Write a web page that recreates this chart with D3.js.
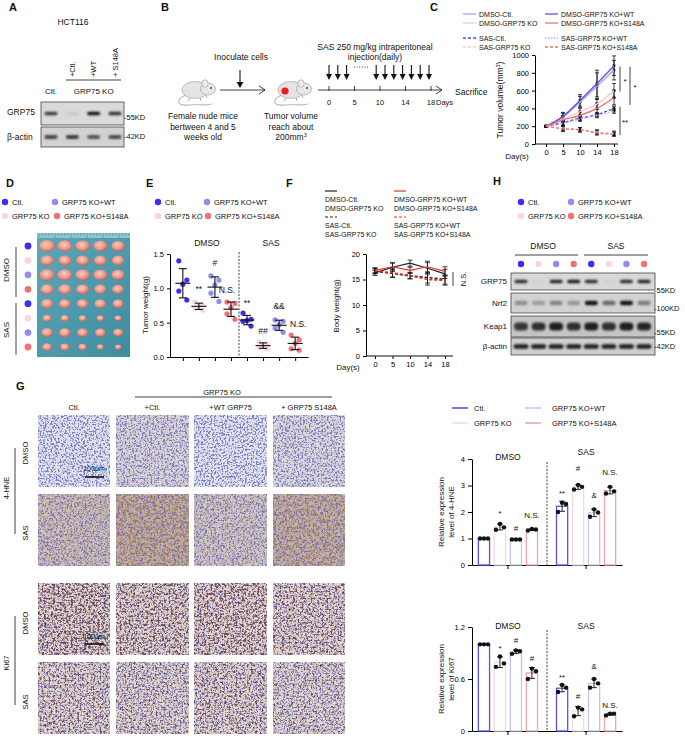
<!DOCTYPE html>
<html>
<head>
<meta charset="utf-8">
<script src="https://cdn.jsdelivr.net/npm/d3@7"></script>
<style>
body { margin: 0; background: #fff; }
svg { display: block; }
</style>
</head>
<body>
<svg id="fig" width="685" height="738"></svg>
<script>
const FONT = '"Liberation Sans", Arial, sans-serif';

// ---- A: HCT116 blot (relative band intensity per lane)
const aLanes = ['Ctl.', '+Ctl.', '+WT', '+ S148A'];
const aGrp75 = [0.8, 0.08, 1.0, 0.85];
const aActin = [0.75, 0.8, 0.65, 0.7];

// ---- B: schedule
const bDays = [0, 5, 10, 14, 18];

// ---- C: tumour volume (mm3)
const cDays = [0, 5, 10, 14, 18];
const cDmsoCtl = [200, 300, 470, 650, 830];
const cDmsoKO = [200, 280, 365, 450, 600];
const cDmsoWT = [200, 310, 490, 680, 880];
const cDmsoS148A = [200, 270, 320, 400, 520];
const cSasCtl = [200, 240, 290, 330, 400];
const cSasKO = [200, 180, 160, 135, 120];
const cSasWT = [200, 230, 280, 320, 370];
const cSasS148A = [200, 170, 160, 125, 110];
const cErrBig = [8, 45, 65, 150, 110];
const cErrMid = [8, 40, 40, 60, 80];
const cErrSmall = [8, 30, 25, 25, 25];

// ---- E: tumour weight (g), 5 mice per group
const eGroups = ['Ctl.', 'GRP75 KO', 'GRP75 KO+WT', 'GRP75 KO+S148A'];
const eDmsoCtl = [1.40, 1.12, 1.06, 0.96, 0.83];
const eDmsoKO = [0.80, 0.76, 0.74, 0.71, 0.68];
const eDmsoWT = [1.18, 1.12, 1.05, 0.93, 0.81];
const eDmsoS148A = [0.80, 0.78, 0.72, 0.63, 0.55];
const eSasCtl = [0.64, 0.55, 0.53, 0.52, 0.45];
const eSasKO = [0.22, 0.19, 0.16, 0.14, 0.12];
const eSasWT = [0.54, 0.52, 0.47, 0.42, 0.36];
const eSasS148A = [0.32, 0.25, 0.20, 0.12, 0.10];
const eSig = ['', '**', '#', 'N.S.', '**', '##', '&&', 'N.S.'];
const eSigAt = [0, 1.02, 1.37, 0.98, 0.83, 0.38, 0.74, 0.48];

// ---- F: body weight (g)
const fDays = [0, 5, 10, 14, 18];
const fDmsoBlack = [16.3, 17.4, 18.2, 17.2, 16.1];
const fDmsoRed = [16.8, 17.5, 16.8, 17.5, 16.6];
const fSasBlack = [16.6, 16.2, 15.7, 15.4, 15.0];
const fSasRed = [16.7, 16.3, 15.8, 15.0, 14.8];
const fErr = [0.5, 0.8, 0.6, 1.1, 0.9];

// ---- H: blot (relative band intensity per lane)
const hGrp75 = [0.85, 0.03, 0.9, 0.95, 0.85, 0.03, 0.85, 0.9];
const hNrf2 = [0.35, 0.28, 0.4, 0.3, 1.0, 0.55, 1.0, 0.45];
const hKeap1 = [0.8, 0.85, 0.95, 0.85, 0.95, 0.85, 0.95, 0.9];
const hActin = [0.95, 0.95, 0.95, 0.95, 0.95, 0.95, 0.95, 0.95];

// ---- G: relative expression, 3 fields per group
const gCols = ['Ctl.', '+Ctl.', '+WT GRP75', '+ GRP75 S148A'];
const gHneDmso = [[1, 1, 1], [1.33, 1.55, 1.42], [0.96, 0.96, 0.96], [1.30, 1.36, 1.34]];
const gHneSas = [[2.0, 2.35, 2.3], [2.85, 3.02, 2.95], [1.82, 2.1, 1.98], [2.7, 2.95, 2.78]];
const gKiDmso = [[1, 1, 1], [0.74, 0.86, 0.78], [0.89, 0.93, 0.92], [0.6, 0.72, 0.69]];
const gKiSas = [[0.45, 0.53, 0.5], [0.17, 0.27, 0.25], [0.5, 0.6, 0.55], [0.18, 0.2, 0.2]];
const gHneSig = ['', '*', '#', 'N.S.', '**', '#', '&', 'N.S.'];
const gHneSigAt = [0, 2.05, 1.36, 1.85, 2.8, 3.66, 2.64, 3.5];
const gKiSig = ['', '*', '#', '#', '**', '#', '&', 'N.S.'];
const gKiSigAt = [0, 0.98, 1.04, 0.84, 0.65, 0.4, 0.74, 0.3];

const colCtl = '#3b2ef2', colKO = '#f5d8db', colWT = '#8e8ef6', colS148A = '#f07276';
const groupCols = [colCtl, colKO, colWT, colS148A];

const svg = d3.select('#fig').attr('font-family', FONT);
svg.append('rect').attr('width', 685).attr('height', 738).attr('fill', '#fff');
const defs = svg.append('defs');
defs.append('filter').attr('id', 'blur').attr('x', '-50%').attr('y', '-100%').attr('width', '200%').attr('height', '300%')
  .append('feGaussianBlur').attr('stdDeviation', 0.9);

function txt(g, x, y, s, size, o = {}) {
  const t = g.append('text').attr('x', x).attr('y', y).attr('font-size', size)
    .attr('dominant-baseline', o.base || 'central').attr('fill', o.fill || '#111').text(s);
  if (o.anchor) t.attr('text-anchor', o.anchor);
  if (o.weight) t.attr('font-weight', o.weight);
  if (o.rotate) t.attr('transform', `rotate(${o.rotate},${x},${y})`);
  return t;
}
function line(g, x1, y1, x2, y2, o = {}) {
  const l = g.append('line').attr('x1', x1).attr('y1', y1).attr('x2', x2).attr('y2', y2)
    .attr('stroke', o.stroke || '#111').attr('stroke-width', o.w || 1);
  if (o.dash) l.attr('stroke-dasharray', o.dash);
  return l;
}
function axisStyle(sel, fs) {
  sel.attr('font-family', FONT).attr('font-size', fs);
  sel.selectAll('path.domain').attr('stroke', '#000');
  sel.selectAll('.tick line').attr('stroke', '#000');
  sel.selectAll('.tick text').attr('fill', '#000');
}
function letter(s, x, y) { txt(svg, x, y, s, 11, { weight: 'bold' }); }

// blot strip: box and blurred bands
function blot(g, x0, x1, y0, y1, laneX, vals, o) {
  g.append('rect').attr('x', x0).attr('y', y0).attr('width', x1 - x0).attr('height', y1 - y0)
    .attr('fill', o.bg).attr('stroke', '#444').attr('stroke-width', 0.8);
  vals.forEach((v, i) => {
    g.append('rect').attr('x', laneX(i) - o.w / 2).attr('y', (y0 + y1) / 2 - o.h / 2)
      .attr('width', o.w).attr('height', o.h).attr('rx', o.h / 2)
      .attr('fill', '#151515').attr('opacity', v).attr('filter', 'url(#blur)');
  });
}
// pts in group order: Ctl., GRP75 KO, GRP75 KO+WT, GRP75 KO+S148A
function dotLegend(g, pts) {
  pts.forEach((p, i) => {
    g.append('circle').attr('cx', p[0]).attr('cy', p[1]).attr('r', 3.2).attr('fill', groupCols[i]);
    txt(g, p[0] + 7, p[1], eGroups[i], 7.5);
  });
}

// ================= A =================
const gA = svg.append('g');
letter('A', 9, 7);
txt(gA, 73, 22, 'HCT116', 8.5, { anchor: 'middle' });
const aX = d3.scalePoint().domain(d3.range(aLanes.length)).range([51, 115]);
aLanes.slice(1).forEach((s, i) => txt(gA, aX(i + 1), 77, s, 7.5, { rotate: -90 }));
line(gA, 66, 80, 121, 80, { w: 0.8 });
txt(gA, aX(0), 91, aLanes[0], 8, { anchor: 'middle' });
txt(gA, aX(2), 91, 'GRP75 KO', 8, { anchor: 'middle' });
blot(gA, 41, 124, 102, 125, aX, aGrp75, { bg: '#dadada', w: 13, h: 3.5 });
blot(gA, 41, 124, 127, 147, aX, aActin, { bg: '#d2d2d2', w: 13, h: 4 });
txt(gA, 7, 112, 'GRP75', 8.5);
txt(gA, 7, 137, 'β-actin', 8.5);
txt(gA, 124, 117, '-55KD', 7.5);
txt(gA, 124, 136, '-42KD', 7.5);

// ================= B =================
const gB = svg.append('g');
letter('B', 161, 7);
function mouse(cx, cy, tumour) {
  const m = gB.append('g').attr('transform', `translate(${cx},${cy})`);
  m.append('path').attr('d', 'M-12,5 C-22,9 -22,16 -10,15 C-2,14 6,16 14,14')
    .attr('fill', 'none').attr('stroke', '#b8b8b8').attr('stroke-width', 1.1);
  m.append('ellipse').attr('cx', -3).attr('cy', 0).attr('rx', 13).attr('ry', 8.5)
    .attr('fill', '#e4e4e4').attr('stroke', '#9a9a9a').attr('stroke-width', 0.6);
  m.append('ellipse').attr('cx', 10).attr('cy', -1).attr('rx', 7.5).attr('ry', 6)
    .attr('fill', '#e8e8e8').attr('stroke', '#9a9a9a').attr('stroke-width', 0.6);
  m.append('ellipse').attr('cx', 7).attr('cy', -6.5).attr('rx', 3.2).attr('ry', 3.8)
    .attr('fill', '#ededed').attr('stroke', '#9a9a9a').attr('stroke-width', 0.6);
  m.append('circle').attr('cx', 13).attr('cy', -2).attr('r', 1).attr('fill', '#444');
  m.append('path').attr('d', 'M-8,8 l-2,3 M2,8 l1,3 M8,5 l1,3').attr('stroke', '#9a9a9a').attr('stroke-width', 0.8);
  if (tumour) m.append('circle').attr('cx', -9).attr('cy', 1).attr('r', 3.6).attr('fill', '#f01818');
}
mouse(198, 90, false);
mouse(294, 90, true);
txt(gB, 241, 57, 'Inoculate cells', 8.5, { anchor: 'middle' });
line(gB, 240, 70, 240, 83, { w: 1.1 });
gB.append('path').attr('d', 'M236.5,82 L243.5,82 L240,88 Z').attr('fill', '#111');
line(gB, 220, 90, 265, 90, { w: 0.8 });
gB.append('path').attr('d', 'M259,86 L265,90 L259,94').attr('fill', 'none').attr('stroke', '#111').attr('stroke-width', 0.8);
['Female nude mice', 'bertween 4 and 5', 'weeks old'].forEach((s, i) => txt(gB, 203, 116 + i * 10.5, s, 8.5, { anchor: 'middle' }));
const tv = gB.append('g');
txt(tv, 291, 116, 'Tumor volume', 8.5, { anchor: 'middle' });
txt(tv, 291, 126.5, 'reach about', 8.5, { anchor: 'middle' });
const t200 = txt(tv, 291, 137, '200mm', 8.5, { anchor: 'middle' });
t200.append('tspan').attr('font-size', 5.5).attr('dy', -2.5).text('3');

const bX = d3.scalePoint().domain(bDays).range([329, 431]);
line(gB, 318, 90, 442, 90, { w: 0.8 });
gB.append('path').attr('d', 'M436,86 L442,90 L436,94').attr('fill', 'none').attr('stroke', '#111').attr('stroke-width', 0.8);
bDays.forEach(d => {
  line(gB, bX(d), 86, bX(d), 91, { w: 0.8 });
  txt(gB, bX(d), 102, String(d), 7.5, { anchor: 'middle' });
});
txt(gB, bX(18) + 5, 102, 'Days', 7.5);
txt(gB, 455, 92, 'Sacrifice', 8.5);
txt(gB, 375, 47, 'SAS 250 mg/kg intraperitoneal', 8.5, { anchor: 'middle' });
txt(gB, 375, 57, 'injection(daily)', 8.5, { anchor: 'middle' });
// daily injection arrows: first three days, then the last seven
const injStep = 8.8;
const injX = d3.range(3).map(i => bX(0) + i * injStep)
  .concat(d3.range(7).map(i => bX(18) - 2 - (6 - i) * injStep));
injX.forEach(x => {
  line(gB, x, 65, x, 75, { w: 1.1 });
  gB.append('path').attr('d', `M${x - 3},74 L${x + 3},74 L${x},80 Z`).attr('fill', '#111');
});
line(gB, 354, 67, 369, 67, { w: 0.8, dash: '1,1.6' });

// ================= C =================
const gC = svg.append('g');
letter('C', 430, 7);
const cItems = [
  ['DMSO-Ctl.', '#a6a6f3', null, 463, 14, cDmsoCtl, cErrBig],
  ['DMSO-GRP75 KO', '#f5cdd2', null, 463, 23, cDmsoKO, cErrMid],
  ['SAS-Ctl.', '#4b4bf0', '3,2', 463, 38, cSasCtl, cErrSmall],
  ['SAS-GRP75 KO', '#f5cdd2', '3,2', 463, 47, cSasKO, cErrSmall],
  ['DMSO-GRP75 KO+WT', '#5656f2', null, 545, 14, cDmsoWT, cErrBig],
  ['DMSO-GRP75 KO+S148A', '#f07070', null, 545, 23, cDmsoS148A, cErrMid],
  ['SAS-GRP75 KO+WT', '#b3b3f5', '1.5,1.5', 545, 38, cSasWT, cErrSmall],
  ['SAS-GRP75 KO+S148A', '#f07070', '3,2', 545, 47, cSasS148A, cErrSmall]
];
cItems.forEach(it => {
  line(gC, it[3], it[4], it[3] + 13, it[4], { stroke: it[1], w: 1.3, dash: it[2] });
  txt(gC, it[3] + 16, it[4], it[0], 7);
});
const cXs = d3.scalePoint().domain(cDays).range([546, 614]);
const cYs = d3.scaleLinear().domain([0, 1000]).range([144, 55]);
const cyAx = gC.append('g').attr('transform', 'translate(535,0)')
  .call(d3.axisLeft(cYs).tickValues([0, 200, 400, 600, 800, 1000]).tickFormat(d3.format('d')).tickSize(3).tickSizeOuter(0));
axisStyle(cyAx, 7.5);
const cxAx = gC.append('g').attr('transform', 'translate(0,144)')
  .call(d3.axisBottom(cXs).tickSize(3).tickSizeOuter(0));
cxAx.select('.domain').remove();
axisStyle(cxAx, 7.5);
line(gC, 535, 144, 618, 144);
txt(gC, 517, 156, 'Day(s)', 8, { anchor: 'middle' });
const cLab = txt(gC, 500, 100, 'Tumor volume(mm', 8.5, { anchor: 'middle', rotate: -90 });
cLab.append('tspan').attr('font-size', 5.5).attr('dy', -2.5).text('3');
cLab.append('tspan').attr('dy', 2.5).text(')');
const cLine = d3.line().x((d, i) => cXs(cDays[i])).y(d => cYs(d)).curve(d3.curveMonotoneX);
cItems.forEach(it => {
  const vals = it[5], err = it[6];
  vals.forEach((v, i) => {
    const x = cXs(cDays[i]);
    line(gC, x, cYs(v - err[i]), x, cYs(v + err[i]), { w: 0.8 });
    line(gC, x - 2, cYs(v - err[i]), x + 2, cYs(v - err[i]), { w: 0.8 });
    line(gC, x - 2, cYs(v + err[i]), x + 2, cYs(v + err[i]), { w: 0.8 });
    gC.append('rect').attr('x', x - 1.3).attr('y', cYs(v) - 1.3).attr('width', 2.6).attr('height', 2.6).attr('fill', '#111');
  });
});
cItems.forEach(it => {
  gC.append('path').attr('d', cLine(it[5])).attr('fill', 'none').attr('stroke', it[1])
    .attr('stroke-width', 1.4).attr('stroke-dasharray', it[2]);
});
[[620, 870, 588, '*'], [630, 870, 438, '*'], [620, 420, 100, '**']].forEach(b => {
  line(gC, b[0], cYs(b[1]), b[0], cYs(b[2]), { w: 0.8 });
  txt(gC, b[0] + 5, (cYs(b[1]) + cYs(b[2])) / 2 + 2, b[3], 8, { anchor: 'middle' });
});

// ================= D =================
const gD = svg.append('g');
letter('D', 6, 183);
dotLegend(gD, [[5, 202], [5, 216], [55, 202], [57, 216]]);
const eAll = [eDmsoCtl, eDmsoKO, eDmsoWT, eDmsoS148A, eSasCtl, eSasKO, eSasWT, eSasS148A];
const grad = defs.append('linearGradient').attr('id', 'teal').attr('x1', 0).attr('y1', 0).attr('x2', 1).attr('y2', 1);
grad.append('stop').attr('offset', 0).attr('stop-color', '#5aa9ba');
grad.append('stop').attr('offset', 1).attr('stop-color', '#3f8c9e');
const tum = defs.append('radialGradient').attr('id', 'tum').attr('cx', '45%').attr('cy', '40%').attr('r', '60%');
tum.append('stop').attr('offset', 0).attr('stop-color', '#f7cfc4');
tum.append('stop').attr('offset', 0.6).attr('stop-color', '#eb9a8c');
tum.append('stop').attr('offset', 1).attr('stop-color', '#d45e58');
gD.append('rect').attr('x', 37).attr('y', 233).attr('width', 93).attr('height', 124).attr('fill', 'url(#teal)');
gD.append('rect').attr('x', 37).attr('y', 233).attr('width', 93).attr('height', 5).attr('fill', '#8cc4cf');
d3.range(39, 130, 3.2).forEach((x, i) => line(gD, x, 233, x, i % 5 === 0 ? 237.5 : 235.5, { stroke: '#2d5f6b', w: 0.4 }));
const dY = d3.scalePoint().domain(d3.range(8)).range([246, 347]);
const dX = d3.scalePoint().domain(d3.range(5)).range([47, 118]);
const rOf = w => 7.2 * Math.cbrt(w / 1.4);
eAll.forEach((grp, r) => {
  gD.append('circle').attr('cx', 28).attr('cy', dY(r)).attr('r', 3.4).attr('fill', groupCols[r % 4]);
  grp.forEach((w, j) => {
    gD.append('ellipse').attr('cx', dX(j)).attr('cy', dY(r)).attr('rx', rOf(w) * 1.1).attr('ry', rOf(w) * 0.85)
      .attr('fill', 'url(#tum)');
  });
});
txt(gD, 6, 270, 'DMSO', 8, { anchor: 'middle', rotate: -90 });
txt(gD, 6, 330, 'SAS', 8, { anchor: 'middle', rotate: -90 });
line(gD, 16, 247, 16, 297, { w: 0.8 });
line(gD, 16, 303, 16, 355, { w: 0.8 });

// ================= E =================
const gE = svg.append('g');
letter('E', 146, 183);
dotLegend(gE, [[158, 202], [158, 216], [207, 202], [208, 216]]);
const eX = d3.scalePoint().domain(d3.range(8)).range([170, 308]).padding(0.8);
const eY = d3.scaleLinear().domain([0, 1.5]).range([357, 254]);
const eyAx = gE.append('g').attr('transform', 'translate(170,0)')
  .call(d3.axisLeft(eY).tickValues([0, 0.5, 1, 1.5]).tickFormat(d3.format('.1f')).tickSize(3).tickSizeOuter(0));
axisStyle(eyAx, 7.5);
const exAx = gE.append('g').attr('transform', 'translate(0,357)')
  .call(d3.axisBottom(eX).tickSize(4).tickSizeOuter(0).tickFormat(''));
axisStyle(exAx, 7.5);
txt(gE, 145, 305, 'Tumor weight(g)', 8, { anchor: 'middle', rotate: -90 });
line(gE, (eX(3) + eX(4)) / 2, 252, (eX(3) + eX(4)) / 2, 357, { w: 0.8, dash: '2,1.5' });
txt(gE, (eX(1) + eX(2)) / 2, 243, 'DMSO', 8.5, { anchor: 'middle' });
txt(gE, (eX(5) + eX(6)) / 2, 243, 'SAS', 8.5, { anchor: 'middle' });
const eJit = [-4, 4, 0, -4, 4];
eAll.forEach((grp, k) => {
  const x = eX(k), m = d3.mean(grp), sd = d3.deviation(grp);
  grp.forEach((v, j) => gE.append('circle').attr('cx', x + eJit[j]).attr('cy', eY(v)).attr('r', 2.6)
    .attr('fill', groupCols[k % 4]));
  line(gE, x, eY(m - sd), x, eY(m + sd), { w: 1.1 });
  line(gE, x - 7.5, eY(m), x + 7.5, eY(m), { w: 1.1 });
  line(gE, x - 4, eY(m - sd), x + 4, eY(m - sd), { w: 1.1 });
  line(gE, x - 4, eY(m + sd), x + 4, eY(m + sd), { w: 1.1 });
  if (eSig[k]) {
    const star = eSig[k].indexOf('*') >= 0;
    txt(gE, x + (k === 7 ? 3 : 0) - (k === 3 ? 4 : 0), eY(eSigAt[k]) + (star ? 2.5 : 0), eSig[k], 8.5, { anchor: 'middle' });
  }
});

// ================= F =================
const gF = svg.append('g');
letter('F', 286, 183);
const fItems = [
  ['DMSO-Ctl.', 'DMSO-GRP75 KO', '#222', null, 325, 191, fDmsoBlack],
  ['DMSO-GRP75 KO+WT', 'DMSO-GRP75 KO+S148A', '#f02a2a', null, 394, 191, fDmsoRed],
  ['SAS-Ctl.', 'SAS-GRP75 KO', '#222', '3,2', 325, 217, fSasBlack],
  ['SAS-GRP75 KO+WT', 'SAS-GRP75 KO+S148A', '#f02a2a', '3,2', 394, 217, fSasRed]
];
fItems.forEach(it => {
  line(gF, it[4], it[5], it[4] + 12, it[5], { stroke: it[2], w: 1.2, dash: it[3] });
  txt(gF, it[4], it[5] + 8, it[0], 7);
  txt(gF, it[4], it[5] + 17, it[1], 7);
});
const fX = d3.scalePoint().domain(fDays).range([375, 445]);
const fY = d3.scaleLinear().domain([0, 20]).range([356, 254]);
const fyAx = gF.append('g').attr('transform', 'translate(366,0)')
  .call(d3.axisLeft(fY).tickValues([0, 5, 10, 15, 20]).tickSize(3).tickSizeOuter(0));
axisStyle(fyAx, 7.5);
const fxAx = gF.append('g').attr('transform', 'translate(0,356)')
  .call(d3.axisBottom(fX).tickSize(3).tickSizeOuter(0));
fxAx.select('.domain').remove();
axisStyle(fxAx, 7.5);
line(gF, 366, 356, 453, 356);
txt(gF, 348, 367, 'Day(s)', 8, { anchor: 'middle' });
txt(gF, 336, 306, 'Body weight(g)', 8, { anchor: 'middle', rotate: -90 });
const fLine = d3.line().x((d, i) => fX(fDays[i])).y(d => fY(d));
fItems.forEach(it => {
  it[6].forEach((v, i) => {
    const x = fX(fDays[i]);
    line(gF, x, fY(v - fErr[i]), x, fY(v + fErr[i]), { w: 0.8 });
    line(gF, x - 2.5, fY(v - fErr[i]), x + 2.5, fY(v - fErr[i]), { w: 0.8 });
    line(gF, x - 2.5, fY(v + fErr[i]), x + 2.5, fY(v + fErr[i]), { w: 0.8 });
  });
  gF.append('path').attr('d', fLine(it[6])).attr('fill', 'none').attr('stroke', it[2])
    .attr('stroke-width', it[3] ? 1.6 : 1.2).attr('stroke-dasharray', it[3]);
});
line(gF, 453, 272, 453, 286, { w: 0.8 });
txt(gF, 463, 279, 'N.S.', 7.5, { anchor: 'middle', rotate: -90 });

// ================= H =================
const gH = svg.append('g');
letter('H', 493, 181);
dotLegend(gH, [[521, 202], [521, 216], [571, 202], [571, 216]]);
const hX = d3.scalePoint().domain(d3.range(8)).range([521, 644]);
txt(gH, 543, 246, 'DMSO', 8.5, { anchor: 'middle' });
txt(gH, 616, 246, 'SAS', 8.5, { anchor: 'middle' });
line(gH, 515, 255, 578, 255, { w: 0.8 });
line(gH, 584, 255, 648, 255, { w: 0.8 });
d3.range(8).forEach(i => gH.append('circle').attr('cx', hX(i)).attr('cy', 264).attr('r', 3.2).attr('fill', groupCols[i % 4]));
blot(gH, 511, 655, 273, 290, hX, hGrp75, { bg: '#d8d8d8', w: 13, h: 3.5 });
blot(gH, 511, 655, 293, 313, hX, hNrf2, { bg: '#d2d2d2', w: 13, h: 4.5 });
blot(gH, 511, 655, 316, 337, hX, hKeap1, { bg: '#c4c4c4', w: 14, h: 8 });
blot(gH, 511, 655, 338, 355, hX, hActin, { bg: '#cfcfcf', w: 15, h: 4.5 });
[['GRP75', 281], ['Nrf2', 303], ['Keap1', 326], ['β-actin', 346]].forEach(r => txt(gH, 507, r[1], r[0], 8, { anchor: 'end' }));
[['-55KD', 290], ['-100KD', 308], ['-55KD', 332], ['-42KD', 346]].forEach(r => txt(gH, 654, r[1], r[0], 7.5));

// ================= G: IHC fields =================
const gG = svg.append('g');
letter('G', 16, 386);
txt(gG, 222, 392, 'GRP75 KO', 7.5, { anchor: 'middle' });
line(gG, 135, 397, 332, 397, { w: 0.8 });
const tileX = d3.scalePoint().domain(d3.range(4)).range([38, 273]);
const tileY = [415, 494, 583, 662];
const tileW = 72;
gCols.forEach((s, i) => txt(gG, tileX(i) + tileW / 2, 407, s, 7.5, { anchor: 'middle' }));
const tileMeans = [gHneDmso, gHneSas, gKiDmso, gKiSas].map(rows => rows.map(p => d3.mean(p)));

// one speckle layer: thresholded noise channel -> coloured, alpha-capped
function speckle(f, name, freq, seed, ch, slope, thr, color, maxA) {
  const c = d3.rgb(color);
  f.append('feTurbulence').attr('type', 'fractalNoise').attr('baseFrequency', freq).attr('numOctaves', 2)
    .attr('seed', seed).attr('result', name + 'n');
  const a = [0, 0, 0, 0];
  a[ch] = slope;
  f.append('feColorMatrix').attr('in', name + 'n').attr('type', 'matrix')
    .attr('values', `0 0 0 0 ${c.r / 255}  0 0 0 0 ${c.g / 255}  0 0 0 0 ${c.b / 255}  ${a.join(' ')} ${-slope * thr}`)
    .attr('result', name + 'a');
  f.append('feColorMatrix').attr('in', name + 'a').attr('type', 'matrix')
    .attr('values', `1 0 0 0 0  0 1 0 0 0  0 0 1 0 0  0 0 0 ${maxA} 0`).attr('result', name);
}
// stain texture driven by the quantified expression of each field
tileMeans.forEach((row, r) => {
  row.forEach((m, c) => {
    const id = `ihc${r}${c}`;
    const f = defs.append('filter').attr('id', id).attr('x', 0).attr('y', 0).attr('width', 1).attr('height', 1)
      .attr('color-interpolation-filters', 'sRGB');
    const hne = r < 2;
    const brown = hne ? Math.max(0, Math.min(0.95, (m - 0.85) / 2.2)) : 0.3;
    const blueAmt = hne ? 1 - 0.6 * brown : Math.max(0.1, 1.05 - 0.9 * m);
    const dark = hne ? 0 : m;
    const base = hne ? d3.interpolateRgb('#e4e6f2', '#c6ab94')(brown) : '#e6d9cf';
    f.append('feFlood').attr('flood-color', base).attr('result', 'bg');
    speckle(f, 'brown', 0.3, 30 + r * 4 + c, 1, 6, 0.47, '#8c6a52', 0.5 * brown);
    speckle(f, 'blue', 0.55, 3 + r * 4 + c, 0, 7, 0.49 + 0.06 * (1 - blueAmt), '#5860bd', 0.75);
    speckle(f, 'dark', 0.45, 60 + r * 4 + c, 2, 7, 0.62 - 0.13 * dark, '#5a2e42', dark > 0 ? 0.8 : 0);
    const mg = f.append('feMerge');
    ['bg', 'brown', 'blue', 'dark'].forEach(n => mg.append('feMergeNode').attr('in', n));
    gG.append('rect').attr('x', tileX(c)).attr('y', tileY[r]).attr('width', tileW).attr('height', tileW)
      .attr('fill', base).attr('filter', `url(#${id})`);
  });
});
[[468, 477], [636, 644]].forEach(s => {
  txt(gG, 94, s[0], '100μm', 7, { anchor: 'middle' });
  line(gG, 85, s[1], 104, s[1], { w: 1.6 });
});
txt(gG, 25, 453, 'DMSO', 7.5, { anchor: 'middle', rotate: -90 });
txt(gG, 25, 533, 'SAS', 7.5, { anchor: 'middle', rotate: -90 });
txt(gG, 6, 488, '4-HNE', 7.5, { anchor: 'middle', rotate: -90 });
line(gG, 15, 448, 15, 534, { w: 0.8 });
txt(gG, 25, 623, 'DMSO', 7.5, { anchor: 'middle', rotate: -90 });
txt(gG, 25, 702, 'SAS', 7.5, { anchor: 'middle', rotate: -90 });
txt(gG, 6, 663, 'Ki67', 7.5, { anchor: 'middle', rotate: -90 });
line(gG, 15, 616, 15, 705, { w: 0.8 });

// ================= G: quantification =================
const barCols = ['#5a52f0', '#f7dadd', '#c3c3f7', '#f4a3a9'];
const gQ = svg.append('g');
[[452, 408, 0], [452, 423, 1], [525, 408, 2], [525, 423, 3]].forEach(l => {
  line(gQ, l[0], l[1], l[0] + 16, l[1], { stroke: barCols[l[2]], w: 1.6 });
  txt(gQ, l[0] + (l[0] < 500 ? 22 : 27), l[1], eGroups[l[2]], 7.5);
});
const qOuter = d3.scaleBand().domain(['DMSO', 'SAS']).range([472, 622]).paddingInner(0.12).paddingOuter(0.02);
const qInner = d3.scaleBand().domain(d3.range(4)).range([0, qOuter.bandwidth()]).padding(0.3);
function quant(y0, y1, ymax, ticks, fmt, dmso, sas, sig, sigAt, labelLines, titleY) {
  const y = d3.scaleLinear().domain([0, ymax]).range([y0, y1]);
  const yAx = gQ.append('g').attr('transform', 'translate(472,0)')
    .call(d3.axisLeft(y).tickValues(ticks).tickFormat(fmt).tickSize(4).tickSizeOuter(0));
  axisStyle(yAx, 7.5);
  const xAx = gQ.append('g').attr('transform', `translate(0,${y0})`)
    .call(d3.axisBottom(qOuter).tickSize(4).tickSizeOuter(0).tickFormat(''));
  axisStyle(xAx, 7.5);
  const mid = (qOuter('DMSO') + qOuter.bandwidth() + qOuter('SAS')) / 2;
  line(gQ, mid, y1 + 3, mid, y0, { w: 0.8, dash: '2,1.5' });
  txt(gQ, qOuter('DMSO') + qOuter.bandwidth() / 2, titleY[0], 'DMSO', 8.5, { anchor: 'middle' });
  txt(gQ, qOuter('SAS') + qOuter.bandwidth() / 2, titleY[1], 'SAS', 8.5, { anchor: 'middle' });
  labelLines.forEach((s, i) => txt(gQ, 441 + i * 10, (y0 + y1) / 2, s, 8, { anchor: 'middle', rotate: -90 }));
  [['DMSO', dmso], ['SAS', sas]].forEach(([grp, rows], gi) => {
    rows.forEach((pts, k) => {
      const x = qOuter(grp) + qInner(k), w = qInner.bandwidth(), cx = x + w / 2;
      const m = d3.mean(pts), sd = d3.deviation(pts);
      gQ.append('rect').attr('x', x).attr('y', y(m)).attr('width', w).attr('height', y0 - y(m))
        .attr('fill', '#fff').attr('stroke', barCols[k]).attr('stroke-width', 1.3);
      line(gQ, cx, y(m - sd), cx, y(m + sd), { w: 0.9 });
      line(gQ, cx - 3, y(m - sd), cx + 3, y(m - sd), { w: 0.9 });
      line(gQ, cx - 3, y(m + sd), cx + 3, y(m + sd), { w: 0.9 });
      pts.forEach((v, j) => gQ.append('circle').attr('cx', cx + (j - 1) * 4).attr('cy', y(v)).attr('r', 2.2).attr('fill', '#111'));
      const idx = gi * 4 + k;
      if (sig[idx]) {
        const star = sig[idx].indexOf('*') >= 0;
        txt(gQ, cx, y(sigAt[idx]) + (star ? 2.5 : 0), sig[idx], 8, { anchor: 'middle' });
      }
    });
  });
}
quant(565, 459, 4, [0, 1, 2, 3, 4], d3.format('d'), gHneDmso, gHneSas, gHneSig, gHneSigAt,
  ['Relative expression', 'level of 4-HNE'], [457, 452]);
quant(731, 627, 1.2, [0, 0.6, 1.2], d => d === 0 ? '0' : d3.format('.1f')(d), gKiDmso, gKiSas, gKiSig, gKiSigAt,
  ['Relative expression', 'level of Ki67'], [626, 626]);
</script>
</body>
</html>
